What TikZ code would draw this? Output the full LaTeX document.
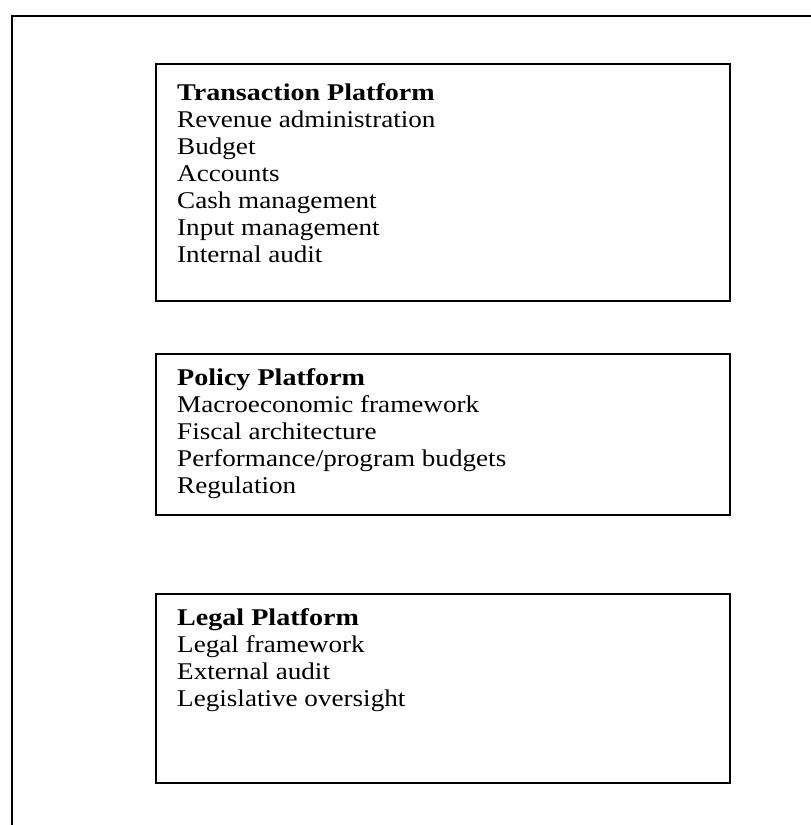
\documentclass[tikz,border=0pt]{standalone}
\usepackage{fontspec}
\setmainfont{Liberation Serif}[FakeStretch=1.13,BoldFeatures={FakeStretch=1.17}]
\begin{document}
\begin{tikzpicture}[x=1pt,y=-1pt,
  platbox/.style={draw=black,line width=2pt,rectangle,inner sep=0pt,anchor=north west},
  plattext/.style={anchor=north west,inner sep=0pt,align=left,font=\fontsize{24}{27}\selectfont}]
\useasboundingbox (0,0) rectangle (811,825);
\begin{scope}
\clip (0,0) rectangle (811,825);
\node[draw=black,line width=2pt,rectangle,inner sep=0pt,anchor=north west,minimum width=840pt,minimum height=850pt] (outer) at (10.5,14.5) {};
\end{scope}
\node[platbox,minimum width=574pt,minimum height=237pt] (trans) at (155,63) {};
\node[platbox,minimum width=574pt,minimum height=161pt] (policy) at (155,353) {};
\node[platbox,minimum width=574pt,minimum height=189pt] (legal) at (155,593) {};
\node[plattext] (transtext) at (177,83) {\textbf{Transaction Platform}\\Revenue administration\\Budget\\Accounts\\Cash management\\Input management\\Internal audit};
\node[plattext] (policytext) at (177,368) {\textbf{Policy Platform}\\Macroeconomic framework\\Fiscal architecture\\Performance/program budgets\\Regulation};
\node[plattext] (legaltext) at (177,608) {\textbf{Legal Platform}\\Legal framework\\External audit\\Legislative oversight};
\end{tikzpicture}
\end{document}
